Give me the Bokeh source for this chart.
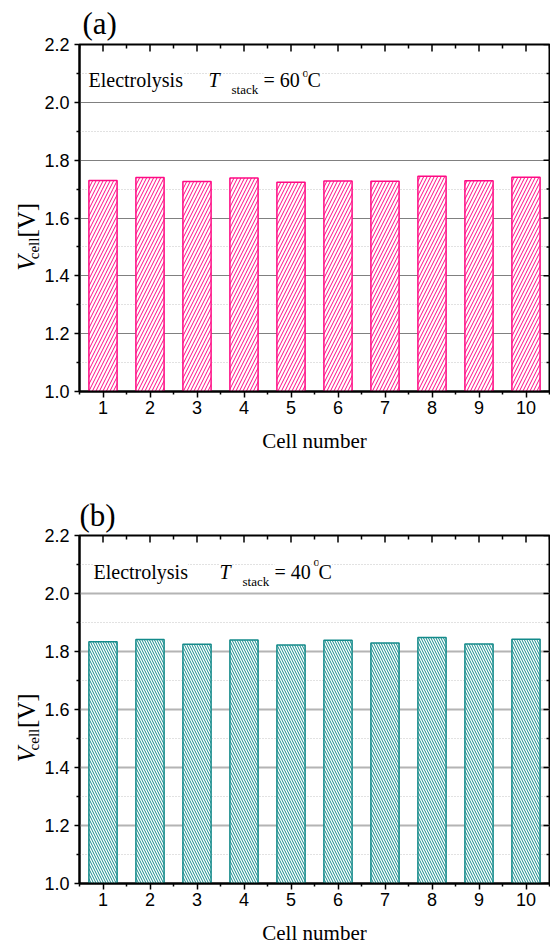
import math
from bokeh.plotting import figure
from bokeh.models import Label, FixedTicker, NumeralTickFormatter, Range1d
from bokeh.layouts import column, row
from bokeh.embed import file_html
from bokeh.resources import INLINE

# ---- data ----
cells = [1, 2, 3, 4, 5, 6, 7, 8, 9, 10]
v_cell_60C = [1.730, 1.740, 1.726, 1.738, 1.724, 1.728, 1.727, 1.744, 1.729, 1.741]
v_cell_40C = [1.834, 1.841, 1.825, 1.840, 1.822, 1.839, 1.829, 1.848, 1.826, 1.842]
y_major = [1.0, 1.2, 1.4, 1.6, 1.8, 2.0, 2.2]
y_minor = [1.1, 1.3, 1.5, 1.7, 1.9, 2.1]
x_major = [1, 2, 3, 4, 5, 6, 7, 8, 9, 10]
x_minor = [0.5, 1.5, 2.5, 3.5, 4.5, 5.5, 6.5, 7.5, 8.5, 9.5, 10.5]
panel_tags = ["(a)", "(b)"]
temps = ["60", "40"]

SERIF = "Liberation Serif"
SANS = "Liberation Sans"
LAB_W = 40          # width of the strip holding the rotated y-axis title


def make_panel(values, color, hatch, hscale, tag, temp, height, top, bottom,
               grid_color, grid_width, lay):
    p = figure(width=550 - LAB_W, height=height, x_range=Range1d(0.5, 10.5),
               y_range=Range1d(1.0, 2.2), output_backend="svg",
               toolbar_location=None, min_border_left=79 - LAB_W,
               min_border_right=1, min_border_top=top,
               min_border_bottom=bottom, title=tag)
    p.outline_line_color = "black"
    p.outline_line_width = 2
    p.background_fill_color = "white"
    p.border_fill_color = "white"

    # panel tag as title
    p.title.text_font = SERIF
    p.title.text_font_size = "31px"
    p.title.text_font_style = "normal"
    p.title.text_color = "black"
    p.title.align = "left"
    p.title.offset = lay["tag_x"]
    p.title.standoff = lay["tag_s"]

    xt = FixedTicker(ticks=x_major, minor_ticks=x_minor)
    yt = FixedTicker(ticks=y_major, minor_ticks=y_minor)

    xa = p.xaxis[0]
    xa.ticker = xt
    ya = p.yaxis[0]
    ya.ticker = yt
    ya.formatter = NumeralTickFormatter(format="0.0")
    for ax in (xa, ya):
        ax.axis_line_width = 2
        ax.axis_line_color = "black"
        ax.major_tick_line_width = 1.5
        ax.minor_tick_line_width = 1.5
        ax.major_tick_in = 0
        ax.minor_tick_in = 0
        ax.major_label_text_font = SANS
        ax.major_label_text_font_size = "18px"
        ax.major_label_text_color = "black"
    xa.major_tick_out = 6
    xa.minor_tick_out = 3
    xa.major_label_standoff = 3
    ya.major_tick_out = 5
    ya.minor_tick_out = 3
    ya.major_label_standoff = 5

    xa.axis_label = "Cell number"
    xa.axis_label_text_font = SERIF
    xa.axis_label_text_font_size = "21px"
    xa.axis_label_text_font_style = "normal"
    xa.axis_label_text_color = "black"
    xa.axis_label_standoff = lay["xl_s"]

    # inward ticks on top and right frame edges
    p.ray(x=x_major, y=2.2, length=7, length_units="screen", angle=-math.pi / 2,
          line_color="black", line_width=1.5)
    p.ray(x=x_minor, y=2.2, length=4, length_units="screen", angle=-math.pi / 2,
          line_color="black", line_width=1.5)
    p.ray(x=10.5, y=y_major, length=6, length_units="screen", angle=math.pi,
          line_color="black", line_width=1.5)
    p.ray(x=10.5, y=y_minor, length=3, length_units="screen", angle=math.pi,
          line_color="black", line_width=1.5)

    p.xgrid.visible = False
    p.ygrid.ticker = yt
    p.ygrid.grid_line_color = grid_color
    p.ygrid.grid_line_width = grid_width
    p.ygrid.minor_grid_line_color = "#c4c4c4"
    p.ygrid.minor_grid_line_width = 1
    p.ygrid.minor_grid_line_dash = "1 2"

    p.vbar(x=cells, top=values, bottom=1.0, width=0.6, fill_color="white",
           line_color=color, line_width=1.5, hatch_pattern=hatch,
           hatch_color=color, hatch_scale=hscale, hatch_weight=1)

    def lab(text, xo, yo, size, style="normal", bg="white"):
        p.add_layout(Label(x=0.5, y=2.2, x_offset=xo, y_offset=yo, text=text,
                           text_font=SERIF, text_font_size=f"{size}px",
                           text_font_style=style, text_baseline="alphabetic",
                           text_align="left", text_color="black",
                           background_fill_color=bg))

    lab("Electrolysis", lay["el_x"], -lay["base"], 20)
    lab("T", lay["t_x"], -lay["base"], 20, style="italic")
    lab("stack", lay["t_x"] + 23, -lay["base"] - 10, 13)
    lab("= " + temp, lay["t_x"] + 55, -lay["base"], 20)
    lab("o", lay["t_x"] + 94, -lay["base"] + lay["sup"], 12)
    lab("C", lay["t_x"] + 99, -lay["base"], 20)
    return p


def make_ylabel_strip(height, bottom, v0):
    # narrow strip whose frame covers the whole canvas, holding the rotated y title
    q = figure(width=LAB_W, height=height, x_range=Range1d(0, LAB_W),
               y_range=Range1d(0, height), output_backend="svg",
               toolbar_location=None, min_border=0,
               x_axis_location=None, y_axis_location=None)
    q.outline_line_color = None
    q.grid.visible = False
    q.background_fill_color = "white"
    q.border_fill_color = "white"

    def ylab(text, xb, yy, size, style="normal"):
        q.add_layout(Label(x=xb, y=yy, text=text, text_font=SERIF,
                           text_font_size=f"{size}px", text_font_style=style,
                           text_baseline="alphabetic", text_align="left",
                           angle=math.pi / 2, text_color="black"))
    ylab("V", 26, bottom + v0, 25, "italic")
    ylab("cell", 33, bottom + v0 + 16, 15)
    ylab("[V]", 26, bottom + v0 + 46, 25)
    return q


lay_a = dict(tag_x=3, tag_s=7, el_x=9, t_x=129, base=35, sup=7, xl_s=12)
lay_b = dict(tag_x=0, tag_s=5, el_x=14, t_x=140, base=36, sup=10, xl_s=12)

p1 = make_panel(v_cell_60C, "#FF0A84", "/", 7, panel_tags[0], temps[0],
                480, 44, 89, "#808080", 1, lay_a)
p2 = make_panel(v_cell_40C, "#138A8A", "\\", 5, panel_tags[1], temps[1],
                468, 55, 65, "#b4b4b4", 2, lay_b)
s1 = make_ylabel_strip(480, 89, 78)
s2 = make_ylabel_strip(468, 65, 98)

layout = column(row(s1, p1, spacing=0), row(s2, p2, spacing=0), spacing=0)
open("out.html", "w").write(file_html(layout, INLINE))
